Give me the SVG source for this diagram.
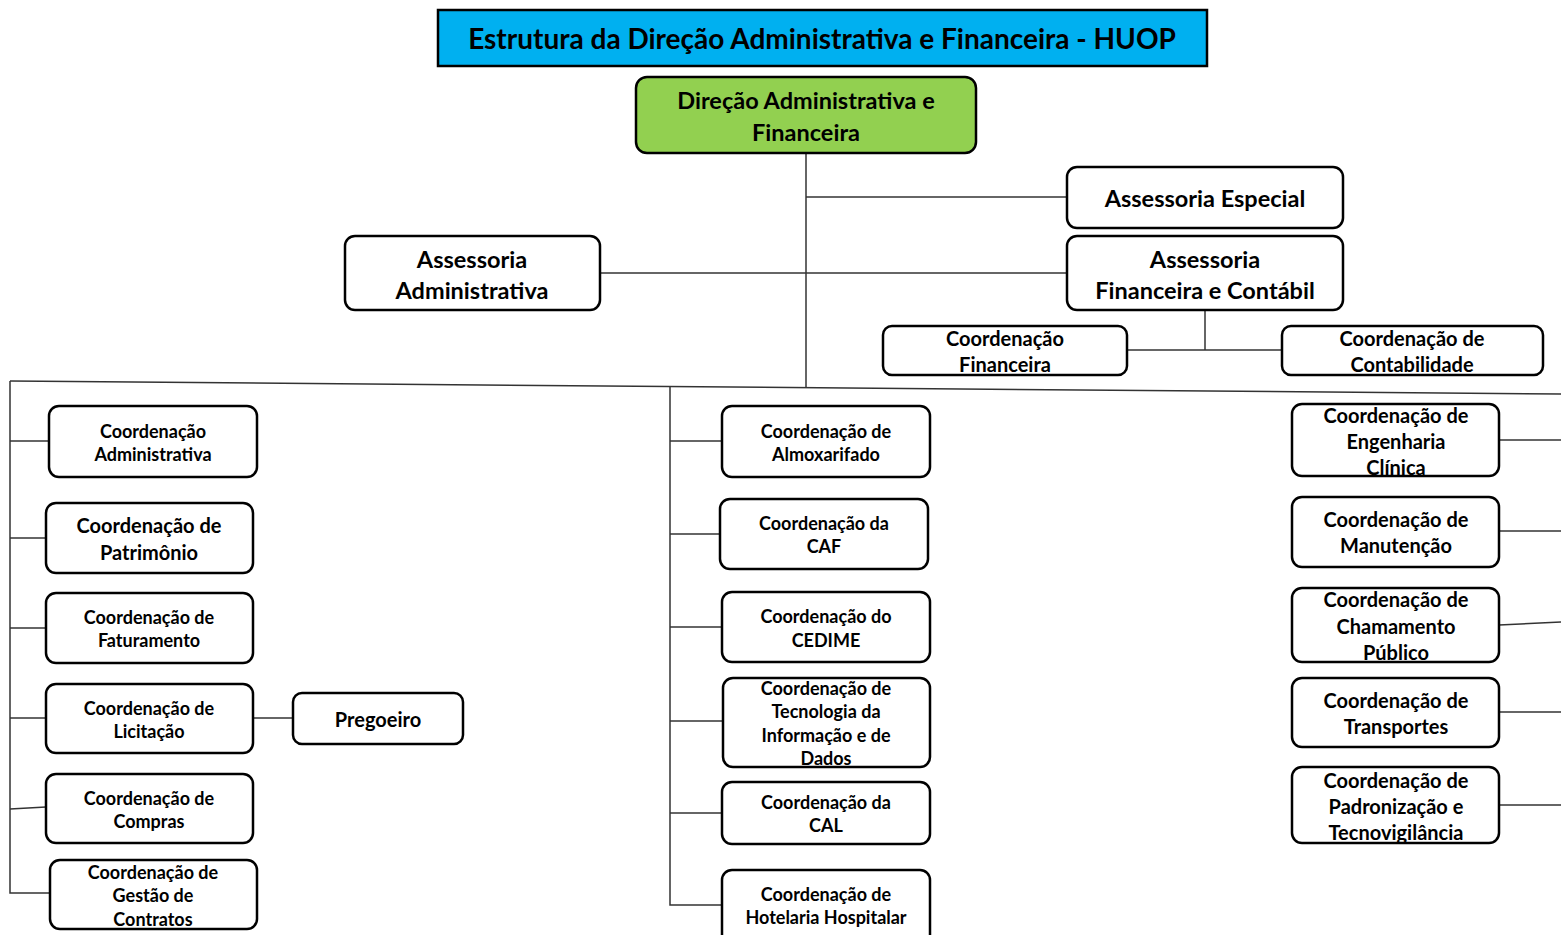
<svg xmlns="http://www.w3.org/2000/svg" width="1561" height="935" viewBox="0 0 1561 935">
<style>
.bx{fill:#fff;stroke:#000;stroke-width:2.5}
.t{font-family:Lato,"Open Sans","Liberation Sans",sans-serif;font-weight:bold;fill:#000;text-anchor:middle;dominant-baseline:central}
.s16{font-size:18px}.s18{font-size:20px}.s21{font-size:23.5px}.s25{font-size:28px}
.c{stroke:#333;stroke-width:1.5;fill:none}
</style>
<rect width="1561" height="935" fill="#fff"/>
<g id="connectors">
<line class="c" x1="806" y1="153" x2="806" y2="387"/>
<line class="c" x1="806" y1="197" x2="1067" y2="197"/>
<line class="c" x1="600" y1="273" x2="1067" y2="273"/>
<line class="c" x1="1205" y1="310" x2="1205" y2="350"/>
<line class="c" x1="1127" y1="350" x2="1282" y2="350"/>
<line class="c" x1="10" y1="381" x2="1561" y2="394"/>
<polyline class="c" points="10,381 10,893 49,893"/>
<line class="c" x1="10" y1="441" x2="49" y2="441"/>
<line class="c" x1="10" y1="538" x2="46" y2="538"/>
<line class="c" x1="10" y1="628" x2="46" y2="628"/>
<line class="c" x1="10" y1="718" x2="46" y2="718"/>
<line class="c" x1="253" y1="718" x2="293" y2="718"/>
<line class="c" x1="10" y1="809" x2="46" y2="807"/>
<polyline class="c" points="670,386 670,905 722,905"/>
<line class="c" x1="670" y1="441" x2="722" y2="441"/>
<line class="c" x1="670" y1="534" x2="720" y2="534"/>
<line class="c" x1="670" y1="627" x2="722" y2="627"/>
<line class="c" x1="670" y1="721" x2="723" y2="721"/>
<line class="c" x1="670" y1="813" x2="722" y2="813"/>
<line class="c" x1="1499" y1="440" x2="1561" y2="440"/>
<line class="c" x1="1499" y1="531" x2="1561" y2="531"/>
<line class="c" x1="1499" y1="625" x2="1561" y2="622"/>
<line class="c" x1="1499" y1="712" x2="1561" y2="712"/>
<line class="c" x1="1499" y1="805" x2="1561" y2="805"/>
</g>
<g id="title">
<rect x="438" y="10" width="769" height="56" fill="#00b0f0" stroke="#000" stroke-width="2.5"/>
<text class="t s25" x="822" y="38">Estrutura da Direção Administrativa e Financeira - HUOP</text>
</g>
<g id="n-daf">
<rect x="636" y="77" width="340" height="76" rx="11" fill="#92d050" stroke="#000" stroke-width="2.5"/>
<text class="t s21" x="806" y="100">Direção Administrativa e</text>
<text class="t s21" x="806" y="132">Financeira</text>
</g>
<g id="n-ass-esp">
<rect class="bx" x="1067" y="167" width="276" height="61" rx="10"/>
<text class="t s21" x="1205" y="198">Assessoria Especial</text>
</g>
<g id="n-ass-adm">
<rect class="bx" x="345" y="236" width="255" height="74" rx="10"/>
<text class="t s21" x="472" y="259">Assessoria</text>
<text class="t s21" x="472" y="290">Administrativa</text>
</g>
<g id="n-ass-fin">
<rect class="bx" x="1067" y="236" width="276" height="74" rx="10"/>
<text class="t s21" x="1205" y="259">Assessoria</text>
<text class="t s21" x="1205" y="290">Financeira e Contábil</text>
</g>
<g id="n-coord-fin">
<rect class="bx" x="883" y="326" width="244" height="49" rx="9"/>
<text class="t s18" x="1005" y="338">Coordenação</text>
<text class="t s18" x="1005" y="364">Financeira</text>
</g>
<g id="n-coord-cont">
<rect class="bx" x="1282" y="326" width="261" height="49" rx="9"/>
<text class="t s18" x="1412" y="338">Coordenação de</text>
<text class="t s18" x="1412" y="364">Contabilidade</text>
</g>
<g id="n-coord-adm">
<rect class="bx" x="49" y="406" width="208" height="71" rx="10"/>
<text class="t s16" x="153" y="431">Coordenação</text>
<text class="t s16" x="153" y="454">Administrativa</text>
</g>
<g id="n-patrimonio">
<rect class="bx" x="46" y="503" width="207" height="70" rx="10"/>
<text class="t s18" x="149" y="525">Coordenação de</text>
<text class="t s18" x="149" y="552">Patrimônio</text>
</g>
<g id="n-faturamento">
<rect class="bx" x="46" y="593" width="207" height="70" rx="10"/>
<text class="t s16" x="149" y="617">Coordenação de</text>
<text class="t s16" x="149" y="640">Faturamento</text>
</g>
<g id="n-licitacao">
<rect class="bx" x="46" y="684" width="207" height="69" rx="10"/>
<text class="t s16" x="149" y="708">Coordenação de</text>
<text class="t s16" x="149" y="731">Licitação</text>
</g>
<g id="n-pregoeiro">
<rect class="bx" x="293" y="693" width="170" height="51" rx="9"/>
<text class="t s18" x="378" y="719">Pregoeiro</text>
</g>
<g id="n-compras">
<rect class="bx" x="46" y="774" width="207" height="69" rx="10"/>
<text class="t s16" x="149" y="798">Coordenação de</text>
<text class="t s16" x="149" y="821">Compras</text>
</g>
<g id="n-contratos">
<rect class="bx" x="50" y="860" width="207" height="69" rx="10"/>
<text class="t s16" x="153" y="872">Coordenação de</text>
<text class="t s16" x="153" y="895">Gestão de</text>
<text class="t s16" x="153" y="919">Contratos</text>
</g>
<g id="n-almox">
<rect class="bx" x="722" y="406" width="208" height="71" rx="10"/>
<text class="t s16" x="826" y="431">Coordenação de</text>
<text class="t s16" x="826" y="454">Almoxarifado</text>
</g>
<g id="n-caf">
<rect class="bx" x="720" y="499" width="208" height="70" rx="10"/>
<text class="t s16" x="824" y="523">Coordenação da</text>
<text class="t s16" x="824" y="546">CAF</text>
</g>
<g id="n-cedime">
<rect class="bx" x="722" y="592" width="208" height="70" rx="10"/>
<text class="t s16" x="826" y="616">Coordenação do</text>
<text class="t s16" x="826" y="640">CEDIME</text>
</g>
<g id="n-ti">
<rect class="bx" x="723" y="678" width="207" height="89" rx="10"/>
<text class="t s16" x="826" y="688">Coordenação de</text>
<text class="t s16" x="826" y="711">Tecnologia da</text>
<text class="t s16" x="826" y="735">Informação e de</text>
<text class="t s16" x="826" y="758">Dados</text>
</g>
<g id="n-cal">
<rect class="bx" x="722" y="782" width="208" height="62" rx="10"/>
<text class="t s16" x="826" y="802">Coordenação da</text>
<text class="t s16" x="826" y="825">CAL</text>
</g>
<g id="n-hotelaria">
<rect class="bx" x="722" y="870" width="208" height="75" rx="10"/>
<text class="t s16" x="826" y="894">Coordenação de</text>
<text class="t s16" x="826" y="917">Hotelaria Hospitalar</text>
</g>
<g id="n-eng">
<rect class="bx" x="1292" y="404" width="207" height="72" rx="10"/>
<text class="t s18" x="1396" y="415">Coordenação de</text>
<text class="t s18" x="1396" y="441">Engenharia</text>
<text class="t s18" x="1396" y="467">Clínica</text>
</g>
<g id="n-manut">
<rect class="bx" x="1292" y="497" width="207" height="70" rx="10"/>
<text class="t s18" x="1396" y="519">Coordenação de</text>
<text class="t s18" x="1396" y="545">Manutenção</text>
</g>
<g id="n-chamamento">
<rect class="bx" x="1292" y="588" width="207" height="74" rx="10"/>
<text class="t s18" x="1396" y="599">Coordenação de</text>
<text class="t s18" x="1396" y="626">Chamamento</text>
<text class="t s18" x="1396" y="652">Público</text>
</g>
<g id="n-transp">
<rect class="bx" x="1292" y="678" width="207" height="69" rx="10"/>
<text class="t s18" x="1396" y="700">Coordenação de</text>
<text class="t s18" x="1396" y="726">Transportes</text>
</g>
<g id="n-padron">
<rect class="bx" x="1292" y="767" width="207" height="76" rx="10"/>
<text class="t s18" x="1396" y="780">Coordenação de</text>
<text class="t s18" x="1396" y="806">Padronização e</text>
<text class="t s18" x="1396" y="832">Tecnovigilância</text>
</g>
</svg>
